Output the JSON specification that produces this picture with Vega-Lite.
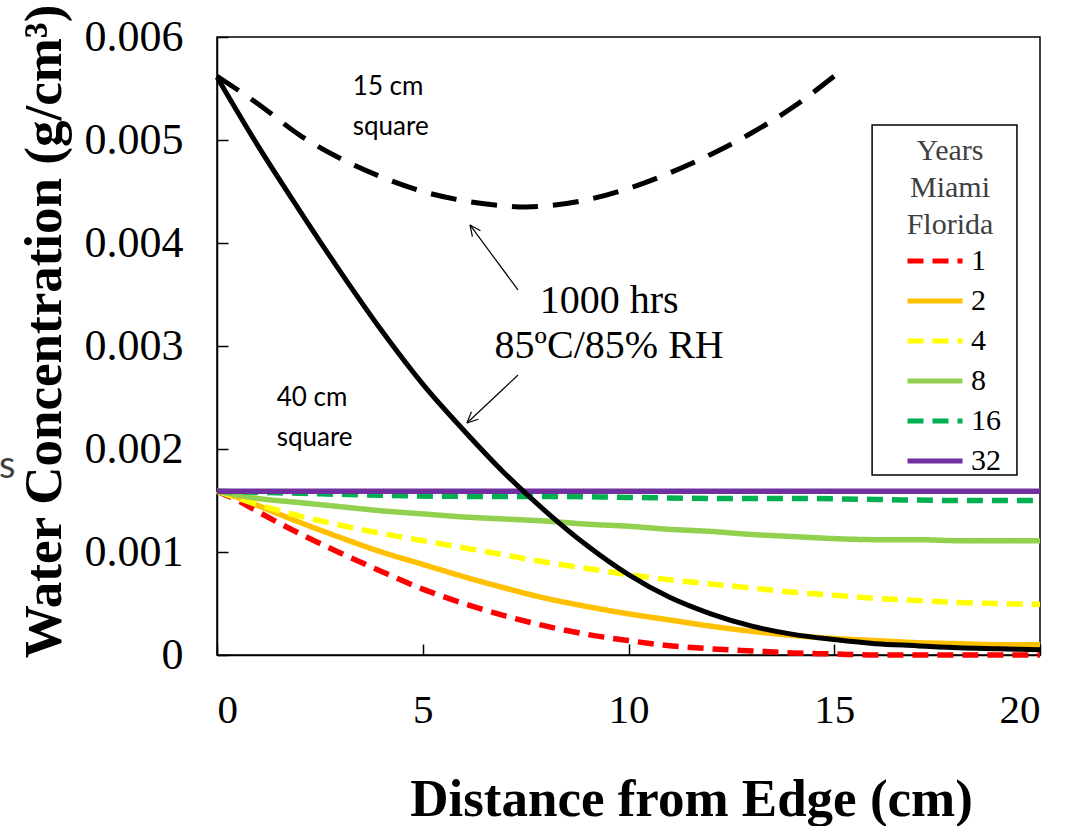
{
  "$schema": "https://vega.github.io/schema/vega-lite/v6.json",
  "width": 823,
  "height": 618,
  "autosize": {"type": "none"},
  "padding": {"left": 217, "top": 37, "right": 29, "bottom": 171},
  "background": "white",
  "config": {
    "font": "Liberation Serif",
    "view": {"stroke": "black", "strokeWidth": 1.5},
    "text": {"font": "Liberation Serif"},
    "legend": {"labelFont": "Liberation Serif", "titleFont": "Liberation Serif"},
    "axis": {
      "grid": false,
      "domainColor": "black",
      "domainWidth": 1.5,
      "tickColor": "black",
      "tickWidth": 1.5,
      "labelColor": "black",
      "titleColor": "black",
      "labelFont": "Liberation Serif",
      "titleFont": "Liberation Serif"
    }
  },
  "datasets": {
    "miami": [
      {"x": 0, "y": 0.00159, "years": 1}, {"x": 0.5, "y": 0.0015, "years": 1}, {"x": 1, "y": 0.00139, "years": 1}, {"x": 2, "y": 0.00118, "years": 1}, {"x": 3, "y": 0.00099, "years": 1}, {"x": 4, "y": 0.00081, "years": 1}, {"x": 5, "y": 0.00064, "years": 1}, {"x": 6, "y": 0.0005, "years": 1}, {"x": 7, "y": 0.00038, "years": 1}, {"x": 8, "y": 0.00028, "years": 1}, {"x": 9, "y": 0.0002, "years": 1}, {"x": 10, "y": 0.00014, "years": 1}, {"x": 11, "y": 0.00009, "years": 1}, {"x": 12, "y": 0.00006, "years": 1}, {"x": 13, "y": 0.00004, "years": 1}, {"x": 14, "y": 0.00002, "years": 1}, {"x": 15, "y": 0.00001, "years": 1}, {"x": 16, "y": 0, "years": 1}, {"x": 17, "y": 0, "years": 1}, {"x": 18, "y": 0, "years": 1}, {"x": 19, "y": 0, "years": 1}, {"x": 20, "y": 0, "years": 1},
      {"x": 0, "y": 0.00159, "years": 2}, {"x": 0.5, "y": 0.00153, "years": 2}, {"x": 1, "y": 0.00145, "years": 2}, {"x": 2, "y": 0.00129, "years": 2}, {"x": 3, "y": 0.00114, "years": 2}, {"x": 4, "y": 0.001, "years": 2}, {"x": 5, "y": 0.00088, "years": 2}, {"x": 6, "y": 0.00076, "years": 2}, {"x": 7, "y": 0.00065, "years": 2}, {"x": 8, "y": 0.00055, "years": 2}, {"x": 9, "y": 0.00047, "years": 2}, {"x": 10, "y": 0.0004, "years": 2}, {"x": 11, "y": 0.00034, "years": 2}, {"x": 12, "y": 0.00028, "years": 2}, {"x": 13, "y": 0.00023, "years": 2}, {"x": 14, "y": 0.00019, "years": 2}, {"x": 15, "y": 0.00016, "years": 2}, {"x": 16, "y": 0.00014, "years": 2}, {"x": 17, "y": 0.00012, "years": 2}, {"x": 18, "y": 0.00011, "years": 2}, {"x": 19, "y": 0.0001, "years": 2}, {"x": 20, "y": 0.0001, "years": 2},
      {"x": 0, "y": 0.00159, "years": 4}, {"x": 1, "y": 0.00146, "years": 4}, {"x": 2, "y": 0.00135, "years": 4}, {"x": 3, "y": 0.00126, "years": 4}, {"x": 4, "y": 0.00118, "years": 4}, {"x": 5, "y": 0.00111, "years": 4}, {"x": 6, "y": 0.00104, "years": 4}, {"x": 7, "y": 0.00097, "years": 4}, {"x": 8, "y": 0.0009, "years": 4}, {"x": 9, "y": 0.00084, "years": 4}, {"x": 10, "y": 0.00078, "years": 4}, {"x": 11, "y": 0.00073, "years": 4}, {"x": 12, "y": 0.00069, "years": 4}, {"x": 13, "y": 0.00065, "years": 4}, {"x": 14, "y": 0.00061, "years": 4}, {"x": 15, "y": 0.00058, "years": 4}, {"x": 16, "y": 0.00055, "years": 4}, {"x": 17, "y": 0.00053, "years": 4}, {"x": 18, "y": 0.00051, "years": 4}, {"x": 19, "y": 0.0005, "years": 4}, {"x": 20, "y": 0.00049, "years": 4},
      {"x": 0, "y": 0.00159, "years": 8}, {"x": 1, "y": 0.00152, "years": 8}, {"x": 2, "y": 0.00148, "years": 8}, {"x": 3, "y": 0.00144, "years": 8}, {"x": 4, "y": 0.0014, "years": 8}, {"x": 5, "y": 0.00137, "years": 8}, {"x": 6, "y": 0.00134, "years": 8}, {"x": 7, "y": 0.00132, "years": 8}, {"x": 8, "y": 0.0013, "years": 8}, {"x": 9, "y": 0.00127, "years": 8}, {"x": 10, "y": 0.00125, "years": 8}, {"x": 11, "y": 0.00122, "years": 8}, {"x": 12, "y": 0.0012, "years": 8}, {"x": 13, "y": 0.00117, "years": 8}, {"x": 14, "y": 0.00115, "years": 8}, {"x": 15, "y": 0.00113, "years": 8}, {"x": 16, "y": 0.00112, "years": 8}, {"x": 17, "y": 0.00112, "years": 8}, {"x": 18, "y": 0.00111, "years": 8}, {"x": 19, "y": 0.00111, "years": 8}, {"x": 20, "y": 0.00111, "years": 8},
      {"x": 0, "y": 0.00159, "years": 16}, {"x": 1, "y": 0.00158, "years": 16}, {"x": 2, "y": 0.00157, "years": 16}, {"x": 3, "y": 0.00156, "years": 16}, {"x": 4, "y": 0.00155, "years": 16}, {"x": 6, "y": 0.00154, "years": 16}, {"x": 8, "y": 0.00154, "years": 16}, {"x": 10, "y": 0.00153, "years": 16}, {"x": 12, "y": 0.00152, "years": 16}, {"x": 14, "y": 0.00152, "years": 16}, {"x": 16, "y": 0.00151, "years": 16}, {"x": 18, "y": 0.0015, "years": 16}, {"x": 20, "y": 0.0015, "years": 16},
      {"x": 0, "y": 0.00159, "years": 32}, {"x": 5, "y": 0.00159, "years": 32}, {"x": 10, "y": 0.00159, "years": 32}, {"x": 15, "y": 0.00159, "years": 32}, {"x": 20, "y": 0.00159, "years": 32}
    ],
    "square15": [
      {"x": 0, "y": 0.00562}, {"x": 1, "y": 0.00535}, {"x": 2, "y": 0.00505}, {"x": 3, "y": 0.00482}, {"x": 4, "y": 0.00464}, {"x": 5, "y": 0.0045}, {"x": 6, "y": 0.00441}, {"x": 7, "y": 0.00436}, {"x": 7.5, "y": 0.00435}, {"x": 8, "y": 0.00436}, {"x": 9, "y": 0.00442}, {"x": 10, "y": 0.00453}, {"x": 11, "y": 0.00468}, {"x": 12, "y": 0.00486}, {"x": 13, "y": 0.00507}, {"x": 14, "y": 0.00532}, {"x": 15, "y": 0.00562}
    ],
    "square40": [
      {"x": 0, "y": 0.00561}, {"x": 1, "y": 0.00494}, {"x": 2, "y": 0.00432}, {"x": 3, "y": 0.00372}, {"x": 4, "y": 0.00315}, {"x": 5, "y": 0.00263}, {"x": 6, "y": 0.00218}, {"x": 7, "y": 0.00176}, {"x": 8, "y": 0.00139}, {"x": 9, "y": 0.00106}, {"x": 10, "y": 0.00078}, {"x": 11, "y": 0.00056}, {"x": 12, "y": 0.0004}, {"x": 13, "y": 0.00028}, {"x": 14, "y": 0.0002}, {"x": 15, "y": 0.00015}, {"x": 16, "y": 0.00011}, {"x": 17, "y": 0.00009}, {"x": 18, "y": 0.00007}, {"x": 19, "y": 0.00006}, {"x": 20, "y": 0.00005}
    ],
    "arrows": [
      {"x": 7.315, "y": 0.003544, "x2": 6.148, "y2": 0.004175},
      {"x": 6.148, "y": 0.004175, "x2": 6.207, "y2": 0.004061},
      {"x": 6.148, "y": 0.004175, "x2": 6.403, "y2": 0.004119},
      {"x": 7.315, "y": 0.002718, "x2": 6.075, "y2": 0.002252},
      {"x": 6.075, "y": 0.002252, "x2": 6.352, "y2": 0.002289},
      {"x": 6.075, "y": 0.002252, "x2": 6.182, "y2": 0.002361}
    ],
    "legendBox": [
      {"x": 15.92, "y": 0.005146, "x2": 19.44, "y2": 0.001748}
    ],
    "sansNotes": [
      {"x": 3.3, "y": 0.005515, "text": "15 cm"},
      {"x": 3.3, "y": 0.005126, "text": "square"},
      {"x": 1.45, "y": 0.0025, "text": "40 cm"},
      {"x": 1.45, "y": 0.00211, "text": "square"}
    ],
    "fragment": [
      {"x": -5.3, "y": 0.00183, "text": "s"}
    ],
    "serifNotes": [
      {"x": 9.53, "y": 0.00344, "text": "1000 hrs"},
      {"x": 9.53, "y": 0.003, "text": "85ºC/85% RH"}
    ]
  },
  "encoding": {
    "x": {
      "field": "x",
      "type": "quantitative",
      "scale": {"domain": [0, 20], "nice": false, "zero": false},
      "axis": {
        "values": [0, 5, 10, 15, 20],
        "tickSize": -11,
        "labelFontSize": 41,
        "labelPadding": 46,
        "title": "Distance from Edge (cm)",
        "titleFontSize": 53,
        "titleFontWeight": "bold",
        "titleX": 474,
        "titleY": 160,
        "titleBaseline": "alphabetic"
      }
    },
    "y": {
      "field": "y",
      "type": "quantitative",
      "scale": {"domain": [0, 0.006], "nice": false},
      "axis": {
        "values": [0, 0.001, 0.002, 0.003, 0.004, 0.005, 0.006],
        "labelExpr": "datum.value === 0 ? '0' : format(datum.value, '.3f')",
        "tickSize": -11,
        "labelFontSize": 44,
        "labelPadding": 45,
        "title": "Water Concentration (g/cm³)",
        "titleFontSize": 53,
        "titleFontWeight": "bold",
        "titleX": -157,
        "titleY": 294,
        "titleBaseline": "alphabetic"
      }
    }
  },
  "layer": [
    {
      "data": {"name": "legendBox"},
      "mark": {"type": "rect", "fill": "white", "stroke": "black", "strokeWidth": 1.5},
      "encoding": {"x2": {"field": "x2"}, "y2": {"field": "y2"}}
    },
    {
      "data": {"name": "miami"},
      "mark": {"type": "line", "strokeWidth": 5.5, "interpolate": "monotone"},
      "encoding": {
        "color": {
          "field": "years",
          "type": "ordinal",
          "scale": {"domain": [1, 2, 4, 8, 16, 32], "range": ["#FF0000", "#FFC000", "#FFFF00", "#92D050", "#00B050", "#7030A0"]},
          "legend": {
            "orient": "none",
            "legendX": 682,
            "legendY": 99,
            "title": ["Years", "Miami", "Florida"],
            "titleFont": "Liberation Serif",
            "titleFontSize": 30,
            "titleFontWeight": "normal",
            "titleColor": "#404040",
            "titleAlign": "center",
            "titleAnchor": "middle",
            "titleLineHeight": 37,
            "titlePadding": 6,
            "labelFont": "Liberation Serif",
            "labelFontSize": 30,
            "labelColor": "black",
            "labelOffset": 21,
            "symbolOffset": 21,
            "symbolType": "M-2.75,0H2.75",
            "symbolSize": 400,
            "symbolStrokeWidth": 5,
            "rowPadding": 10,
            "padding": 0
          }
        },
        "strokeDash": {
          "field": "years",
          "type": "ordinal",
          "scale": {"domain": [1, 2, 4, 8, 16, 32], "range": [[16, 9], [1, 0], [16, 9], [1, 0], [16, 9], [1, 0]]},
          "legend": {
            "orient": "none",
            "legendX": 682,
            "legendY": 99,
            "title": ["Years", "Miami", "Florida"],
            "titleFont": "Liberation Serif",
            "titleFontSize": 30,
            "titleFontWeight": "normal",
            "titleColor": "#404040",
            "titleAlign": "center",
            "titleAnchor": "middle",
            "titleLineHeight": 37,
            "titlePadding": 6,
            "labelFont": "Liberation Serif",
            "labelFontSize": 30,
            "labelColor": "black",
            "labelOffset": 21,
            "symbolOffset": 21,
            "symbolType": "M-2.75,0H2.75",
            "symbolSize": 400,
            "symbolStrokeWidth": 5,
            "rowPadding": 10,
            "padding": 0
          }
        }
      }
    },
    {
      "data": {"name": "square15"},
      "mark": {"type": "line", "color": "black", "strokeWidth": 5, "strokeDash": [26, 15], "interpolate": "monotone"}
    },
    {
      "data": {"name": "square40"},
      "mark": {"type": "line", "color": "black", "strokeWidth": 5, "interpolate": "monotone"}
    },
    {
      "data": {"name": "arrows"},
      "mark": {"type": "rule", "color": "black", "strokeWidth": 1.2},
      "encoding": {"x2": {"field": "x2"}, "y2": {"field": "y2"}}
    },
    {
      "data": {"name": "sansNotes"},
      "mark": {"type": "text", "font": "Lato", "fontSize": 26, "align": "left", "baseline": "middle", "color": "black"},
      "encoding": {"text": {"field": "text"}}
    },
    {
      "data": {"name": "fragment"},
      "mark": {"type": "text", "font": "Lato", "fontSize": 38, "align": "left", "baseline": "middle", "color": "#404040"},
      "encoding": {"text": {"field": "text"}}
    },
    {
      "data": {"name": "serifNotes"},
      "mark": {"type": "text", "font": "Liberation Serif", "fontSize": 40, "align": "center", "baseline": "middle", "color": "black"},
      "encoding": {"text": {"field": "text"}}
    }
  ]
}
